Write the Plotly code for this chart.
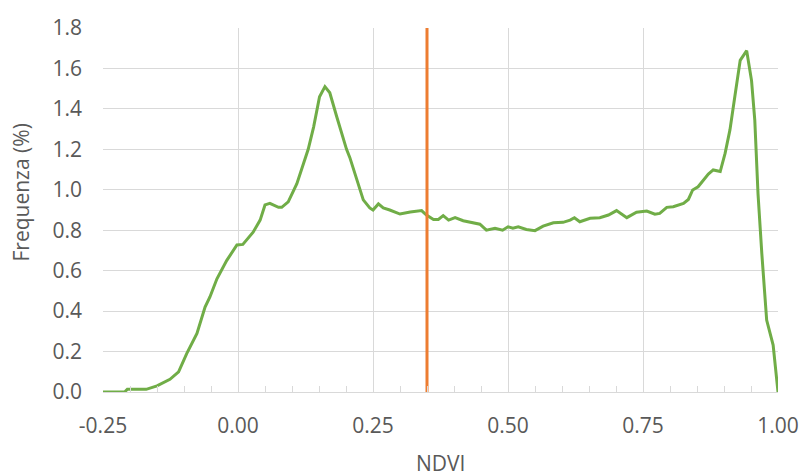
import plotly.graph_objects as go

#######################################################################
# Dati: istogramma NDVI (frequenza in %)
ndvi = [-0.25, -0.21, -0.205, -0.17, -0.15, -0.126, -0.11, -0.095, -0.076,
        -0.061, -0.052, -0.039, -0.021, -0.002, 0.009, 0.028, 0.041, 0.05,
        0.059, 0.075, 0.081, 0.093, 0.109, 0.118, 0.13, 0.14, 0.151, 0.161,
        0.17, 0.183, 0.201, 0.207, 0.22, 0.232, 0.244, 0.25, 0.26, 0.269,
        0.281, 0.30, 0.319, 0.34, 0.349, 0.362, 0.371, 0.38, 0.39, 0.402,
        0.417, 0.436, 0.448, 0.46, 0.476, 0.49, 0.50, 0.509, 0.519, 0.534,
        0.55, 0.565, 0.584, 0.602, 0.615, 0.623, 0.633, 0.652, 0.67, 0.686,
        0.701, 0.72, 0.738, 0.757, 0.772, 0.781, 0.794, 0.806, 0.825, 0.834,
        0.842, 0.852, 0.871, 0.88, 0.893, 0.902, 0.911, 0.92, 0.93, 0.942,
        0.951, 0.957, 0.963, 0.97, 0.979, 0.991, 1.0]
frequenza = [0, 0, 0.013, 0.013, 0.03, 0.063, 0.10, 0.19, 0.29,
             0.42, 0.47, 0.56, 0.65, 0.727, 0.73, 0.79, 0.85, 0.925,
             0.933, 0.913, 0.913, 0.94, 1.03, 1.10, 1.20, 1.31, 1.46, 1.51,
             1.48, 1.36, 1.20, 1.16, 1.05, 0.95, 0.91, 0.90, 0.93, 0.91,
             0.90, 0.88, 0.89, 0.897, 0.875, 0.853, 0.853, 0.872, 0.85, 0.862,
             0.847, 0.837, 0.83, 0.80, 0.81, 0.80, 0.817, 0.81, 0.817, 0.804,
             0.798, 0.82, 0.837, 0.839, 0.85, 0.862, 0.842, 0.859, 0.862, 0.875,
             0.897, 0.862, 0.889, 0.895, 0.879, 0.883, 0.913, 0.916, 0.933, 0.952,
             0.999, 1.015, 1.078, 1.098, 1.09, 1.18, 1.296, 1.46, 1.64, 1.688,
             1.54, 1.345, 0.98, 0.686, 0.356, 0.232, 0.0]

# Soglia NDVI (linea verticale arancione)
soglia_x = [0.35, 0.35]
soglia_y = [0.0, 1.8]

# Etichette asse X (con il trattino normale, come in Excel)
tick_x = [-0.25, 0.0, 0.25, 0.5, 0.75, 1.0]
etichette_x = ['-0.25', '0.00', '0.25', '0.50', '0.75', '1.00']

#######################################################################
grafico = go.Figure()
grafico.add_trace(go.Scatter(
    x = ndvi,
    y = frequenza,
    mode = 'lines',
    line = dict(color = '#70AD47', width = 3),
    showlegend = False
))
grafico.add_trace(go.Scatter(
    x = soglia_x,
    y = soglia_y,
    mode = 'lines',
    line = dict(color = '#ED7D31', width = 3),
    showlegend = False
))

grigio = '#595959'
griglia = '#d9d9d9'
grafico.update_layout(
    template = 'none',
    width = 805,
    height = 476,
    margin = dict(l = 103, r = 27, t = 28, b = 84),
    paper_bgcolor = 'white',
    plot_bgcolor = 'white',
    font = dict(family = 'Open Sans', size = 21, color = grigio),
    xaxis = dict(
        automargin = False,
        range = [-0.25, 1.0],
        tickmode = 'array',
        tickvals = tick_x,
        ticktext = etichette_x,
        showgrid = True,
        gridcolor = griglia,
        gridwidth = 1,
        showline = True,
        linecolor = griglia,
        linewidth = 1,
        ticks = 'inside',
        ticklen = 6,
        tickcolor = griglia,
        minor = dict(dtick = 0.05, tick0 = -0.25, ticks = 'inside',
                     ticklen = 6, tickcolor = griglia, showgrid = False),
        ticklabelstandoff = 15,
        zeroline = False,
    ),
    yaxis = dict(
        automargin = False,
        range = [0, 1.8],
        dtick = 0.2,
        tickformat = '.1f',
        showgrid = True,
        gridcolor = griglia,
        gridwidth = 1,
        showline = False,
        ticks = '',
        ticklabelstandoff = 20,
        zeroline = False,
    ),
    annotations = [
        dict(
            text = 'Frequenza (%)',
            textangle = -90,
            xref = 'paper', yref = 'paper',
            x = -0.121, y = 0.549,
            xanchor = 'center', yanchor = 'middle',
            showarrow = False,
        ),
        dict(
            text = 'NDVI',
            xref = 'paper', yref = 'paper',
            x = 0.5, y = -0.194,
            xanchor = 'center', yanchor = 'middle',
            showarrow = False,
        ),
    ],
)

# Tolgo il margine di default del body, così il grafico parte da (0, 0)
grafico.write_html('out.html',
                   config = {'displayModeBar': False},
                   post_script = "document.body.style.margin = '0';")
